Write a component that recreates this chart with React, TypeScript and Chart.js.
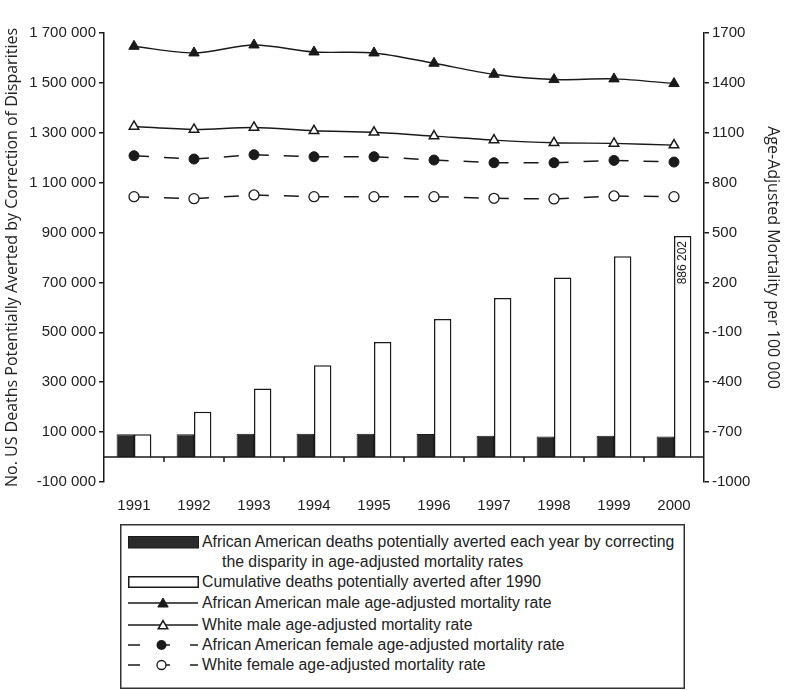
import React, { useEffect, useRef } from 'react';
import { Chart, registerables } from 'chart.js';

Chart.register(...registerables);

// ---- Data ----
const years = ['1991', '1992', '1993', '1994', '1995', '1996', '1997', '1998', '1999', '2000'];
const annualAverted = [91000, 91000, 93000, 93000, 93000, 92000, 85000, 82000, 85000, 82000];
const cumulativeAverted = [91000, 182000, 275000, 368000, 461000, 553000, 638000, 720000, 805000, 886202];
const aaMaleRate = [1620, 1580, 1628, 1586, 1580, 1518, 1452, 1420, 1424, 1396];
const whiteMaleRate = [1138, 1120, 1132, 1112, 1103, 1080, 1056, 1040, 1036, 1026];
const aaFemaleRate = [962, 942, 968, 956, 956, 936, 920, 920, 934, 924];
const whiteFemaleRate = [716, 704, 726, 716, 716, 716, 706, 702, 720, 716];

const leftMin = -100000;
const leftMax = 1700000;
const leftStep = 200000;
const rightMin = -1000;
const rightMax = 1700;
const rightStep = 300;

const leftTitle = 'No. US Deaths Potentially Averted by Correction of Disparities';
const rightTitle = 'Age-Adjusted Mortality per 100 000';
const labelText = '886 202';

const legendLabels = [
  'African American deaths potentially averted each year by correcting',
  'the disparity in age-adjusted mortality rates',
  'Cumulative deaths potentially averted after 1990',
  'African American male age-adjusted mortality rate',
  'White male age-adjusted mortality rate',
  'African American female age-adjusted mortality rate',
  'White female age-adjusted mortality rate',
];

const INK = '#1a1a1a';
const TICK_FONT = '"Liberation Sans", Arial, sans-serif';
const TITLE_FONT = '"Open Sans", "Noto Sans", sans-serif';

function fmtLeft(v: number): string {
  const s = Math.abs(v).toString().replace(/\B(?=(\d{3})+(?!\d))/g, ' ');
  return (v < 0 ? '-' : '') + s;
}

const overlayPlugin = {
  id: 'overlay',
  afterDatasetsDraw(chart: any) {
    const { ctx, chartArea, scales } = chart;
    const y0 = scales.y.getPixelForValue(0);
    ctx.save();
    ctx.strokeStyle = INK;
    ctx.lineWidth = 1.5;
    ctx.beginPath();
    ctx.moveTo(chartArea.left, y0);
    ctx.lineTo(chartArea.right, y0);
    const n = years.length;
    const w = (chartArea.right - chartArea.left) / n;
    for (let i = 1; i < n; i++) {
      const x = chartArea.left + i * w;
      ctx.moveTo(x, y0);
      ctx.lineTo(x, y0 + 5);
    }
    ctx.stroke();

    const meta = chart.getDatasetMeta(1);
    const bar: any = meta.data[n - 1];
    if (bar) {
      ctx.translate(bar.x, bar.y + 5);
      ctx.rotate(-Math.PI / 2);
      ctx.font = '12px ' + TICK_FONT;
      ctx.fillStyle = INK;
      ctx.textAlign = 'right';
      ctx.textBaseline = 'middle';
      ctx.fillText(labelText, 0, 0);
    }
    ctx.restore();
  },
};

function Legend() {
  const rowY = [542, 562, 582, 603, 625, 645, 665];
  const textX = 202;
  const tri = (cx: number, cy: number, r: number) => {
    const pts = [0, 1, 2].map((k) => {
      const a = (k * 2 * Math.PI) / 3;
      return `${cx + Math.sin(a) * r},${cy - Math.cos(a) * r}`;
    });
    return pts.join(' ');
  };
  return (
    <>
      <svg
        width={786}
        height={690}
        style={{ position: 'absolute', left: 0, top: 0, pointerEvents: 'none' }}
      >
        <rect x={120.75} y={524.75} width={563.5} height={163.5} fill="#fff" stroke="#333" strokeWidth={1.5} />
        <rect x={128.5} y={536.5} width={70} height={11.5} fill="#2b2b2b" stroke={INK} strokeWidth={1} />
        <rect x={128.75} y={576.75} width={69.5} height={10.5} fill="#fff" stroke={INK} strokeWidth={1.5} />
        <line x1={128} y1={603} x2={198} y2={603} stroke={INK} strokeWidth={1.3} />
        <polygon points={tri(163, 604, 6)} fill={INK} stroke={INK} strokeWidth={1} />
        <line x1={128} y1={625} x2={198} y2={625} stroke={INK} strokeWidth={1.3} />
        <polygon points={tri(163, 626, 5.5)} fill="#fff" stroke={INK} strokeWidth={1.5} />
        <line x1={128} y1={645} x2={140} y2={645} stroke={INK} strokeWidth={1.5} />
        <line x1={161} y1={645} x2={170} y2={645} stroke={INK} strokeWidth={1.5} />
        <line x1={190} y1={645} x2={198} y2={645} stroke={INK} strokeWidth={1.5} />
        <circle cx={161.5} cy={645} r={5} fill={INK} />
        <line x1={128} y1={665} x2={140} y2={665} stroke={INK} strokeWidth={1.5} />
        <line x1={161} y1={665} x2={170} y2={665} stroke={INK} strokeWidth={1.5} />
        <line x1={190} y1={665} x2={198} y2={665} stroke={INK} strokeWidth={1.5} />
        <circle cx={161.5} cy={665} r={4.5} fill="#fff" stroke={INK} strokeWidth={1.3} />
      </svg>
      {legendLabels.map((t, i) => (
        <div
          key={i}
          style={{
            position: 'absolute',
            left: i === 1 ? 222 : textX,
            top: rowY[i] - 10,
            height: 20,
            lineHeight: '20px',
            fontFamily: TICK_FONT,
            fontSize: 15.8,
            color: '#222',
            whiteSpace: 'nowrap',
          }}
        >
          {t}
        </div>
      ))}
    </>
  );
}

export default function App() {
  const canvasRef = useRef<HTMLCanvasElement | null>(null);

  useEffect(() => {
    document.body.style.margin = '0';
    const canvas = canvasRef.current;
    if (!canvas) return;
    const chart = new Chart(canvas, {
      type: 'bar',
      data: {
        labels: years,
        datasets: [
          {
            type: 'bar',
            label: legendLabels[0],
            data: annualAverted,
            backgroundColor: '#2b2b2b',
            borderColor: INK,
            borderWidth: 1,
            yAxisID: 'y',
            order: 2,
            barPercentage: 1,
            categoryPercentage: 0.58,
          },
          {
            type: 'bar',
            label: legendLabels[2],
            data: cumulativeAverted,
            backgroundColor: '#ffffff',
            borderColor: INK,
            borderWidth: 1.5,
            yAxisID: 'y',
            order: 2,
            barPercentage: 1,
            categoryPercentage: 0.58,
          },
          {
            type: 'line',
            label: legendLabels[3],
            data: aaMaleRate,
            yAxisID: 'y1',
            borderColor: INK,
            borderWidth: 1.4,
            tension: 0.3,
            pointStyle: 'triangle',
            pointRadius: 6,
            pointBackgroundColor: INK,
            pointBorderColor: INK,
            pointBorderWidth: 1,
            order: 1,
          },
          {
            type: 'line',
            label: legendLabels[4],
            data: whiteMaleRate,
            yAxisID: 'y1',
            borderColor: INK,
            borderWidth: 1.4,
            tension: 0.3,
            pointStyle: 'triangle',
            pointRadius: 5.5,
            pointBackgroundColor: '#fff',
            pointBorderColor: INK,
            pointBorderWidth: 1.5,
            order: 1,
          },
          {
            type: 'line',
            label: legendLabels[5],
            data: aaFemaleRate,
            yAxisID: 'y1',
            borderColor: INK,
            borderWidth: 1.5,
            borderDash: [15, 15],
            tension: 0,
            pointStyle: 'circle',
            pointRadius: 5,
            pointBackgroundColor: INK,
            pointBorderColor: INK,
            pointBorderWidth: 1,
            order: 1,
          },
          {
            type: 'line',
            label: legendLabels[6],
            data: whiteFemaleRate,
            yAxisID: 'y1',
            borderColor: INK,
            borderWidth: 1.5,
            borderDash: [15, 15],
            tension: 0,
            pointStyle: 'circle',
            pointRadius: 5,
            pointBackgroundColor: '#fff',
            pointBorderColor: INK,
            pointBorderWidth: 1.3,
            order: 1,
          },
        ],
      },
      options: {
        responsive: false,
        animation: false,
        devicePixelRatio: 1,
        layout: { padding: { top: 33, left: 0, right: 0, bottom: 0 } },
        plugins: {
          legend: { display: false },
          tooltip: { enabled: false },
        },
        scales: {
          x: {
            type: 'category',
            offset: true,
            grid: { display: false, drawTicks: false },
            border: { display: false },
            ticks: {
              padding: 15,
              color: '#222',
              font: { family: TICK_FONT, size: 15 },
              maxRotation: 0,
            },
            afterFit(scale: any) {
              scale.height = 38;
              scale.paddingLeft = 0;
              scale.paddingRight = 0;
            },
          },
          y: {
            type: 'linear',
            position: 'left',
            min: leftMin,
            max: leftMax,
            ticks: {
              stepSize: leftStep,
              padding: 3,
              color: '#222',
              font: { family: TICK_FONT, size: 15 },
              callback: (v: any) => fmtLeft(Number(v)),
            },
            grid: { drawOnChartArea: false, drawTicks: true, tickLength: 5, color: INK, lineWidth: 1.5 },
            border: { display: true, color: INK, width: 1.5 },
            title: {
              display: true,
              text: leftTitle,
              color: '#222',
              font: { family: TITLE_FONT, size: 16 },
              padding: { top: 3, bottom: 4 },
            },
            afterFit(scale: any) {
              scale.width = 104;
              scale.paddingTop = 0;
              scale.paddingBottom = 0;
            },
          },
          y1: {
            type: 'linear',
            position: 'right',
            min: rightMin,
            max: rightMax,
            ticks: {
              stepSize: rightStep,
              padding: 3,
              color: '#222',
              font: { family: TICK_FONT, size: 15 },
              callback: (v: any) => String(v),
            },
            grid: { drawOnChartArea: false, drawTicks: true, tickLength: 5, color: INK, lineWidth: 1.5 },
            border: { display: true, color: INK, width: 1.5 },
            title: {
              display: true,
              text: rightTitle,
              color: '#222',
              font: { family: TITLE_FONT, size: 16 },
              padding: { top: 4, bottom: 4 },
            },
            afterFit(scale: any) {
              scale.width = 82;
              scale.paddingTop = 0;
              scale.paddingBottom = 0;
            },
          },
        },
      },
      plugins: [overlayPlugin],
    } as any);
    return () => {
      chart.destroy();
    };
  }, []);

  return (
    <div style={{ position: 'relative', width: 786, height: 690, background: '#fff' }}>
      <canvas
        ref={canvasRef}
        width={786}
        height={520}
        style={{ position: 'absolute', left: 0, top: 0, width: 786, height: 520 }}
      />
      <Legend />
    </div>
  );
}
